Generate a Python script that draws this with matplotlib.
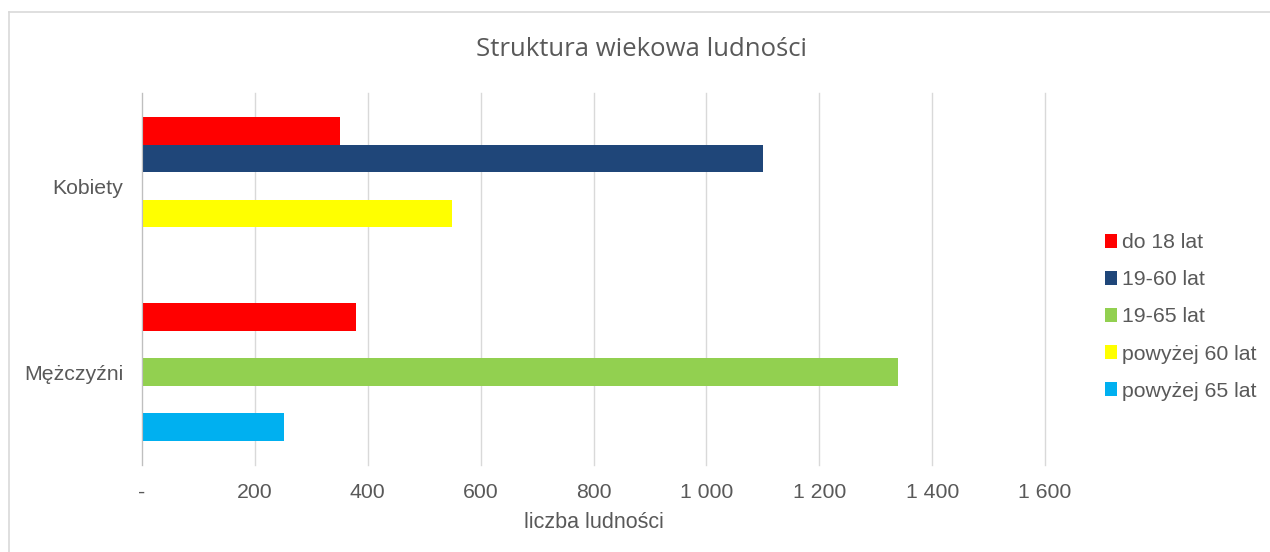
import matplotlib.pyplot as plt
from matplotlib.patches import Patch
from matplotlib.lines import Line2D
import matplotlib.ticker as ticker
import numpy as np

# data
categories = ["Kobiety", "Mężczyźni"]
series = ["do 18 lat", "19-60 lat", "19-65 lat", "powyżej 60 lat", "powyżej 65 lat"]
do_18 = [350, 380]
lat_19_60 = [1100, 0]
lat_19_65 = [0, 1340]
pow_60 = [550, 0]
pow_65 = [0, 252]
values = [do_18, lat_19_60, lat_19_65, pow_60, pow_65]
colors = ["#FF0000", "#1F4679", "#92D050", "#FFFF00", "#00B0F0"]

plt.rcParams['font.family'] = ['Liberation Sans', 'DejaVu Sans']

fig = plt.figure(figsize=(12.7, 5.52), dpi=100)
ax = fig.add_axes([142/1270, 87/552, (1045-142)/1270, 372/552])

y = np.arange(len(categories))
h = 0.148
for i, (name, vals, c) in enumerate(zip(series, values, colors)):
    ax.barh(y + (i - 2) * h, vals, height=h, color=c, label=name)

ax.set_xlim(0, 1600)
ax.set_ylim(1.5, -0.5)
ax.set_xticks(range(0, 1601, 200))
ax.xaxis.set_major_formatter(ticker.FuncFormatter(
    lambda v, p: "-" if v == 0 else "{:,}".format(int(v)).replace(",", " ")))
ax.set_yticks(y)
ax.set_yticklabels(categories)
ax.tick_params(axis='both', length=0, labelsize=15.3, colors="#595959")
ax.tick_params(axis='x', pad=13)
ax.tick_params(axis='y', pad=13.5)
ax.grid(axis='x', color="#D9D9D9", linewidth=1)
for gl in ax.get_xgridlines():
    gl.set_clip_on(False)
ax.set_axisbelow(True)
for s in ["top", "right", "bottom"]:
    ax.spines[s].set_visible(False)
ax.spines["left"].set_color("#BFBFBF")
ax.set_xlabel("liczba ludności", fontsize=15.5, color="#595959", labelpad=7)

fig.text(642/1270, 1 - 49/552, "Struktura wiekowa ludności", ha="center", va="center",
         fontsize=18.5, color="#595959", family=["Open Sans", "DejaVu Sans"])

handles = [Patch(facecolor=c, edgecolor="none") for c in colors]
fig.legend(handles, series, loc="center left", bbox_to_anchor=(1096/1270, 1 - 317/552),
           frameon=False, fontsize=15.3, labelcolor="#595959", handlelength=0.6,
           handleheight=0.6, handletextpad=0.2, labelspacing=0.85, borderaxespad=0)

# chart frame
fig.add_artist(Line2D([9/1270, 9/1270], [0, 1 - 12/552], transform=fig.transFigure,
                      color="#D9D9D9", linewidth=1.2))
fig.add_artist(Line2D([9/1270, 1], [1 - 12/552, 1 - 12/552], transform=fig.transFigure,
                      color="#D9D9D9", linewidth=1.2))

plt.savefig("out.png", dpi=100)
